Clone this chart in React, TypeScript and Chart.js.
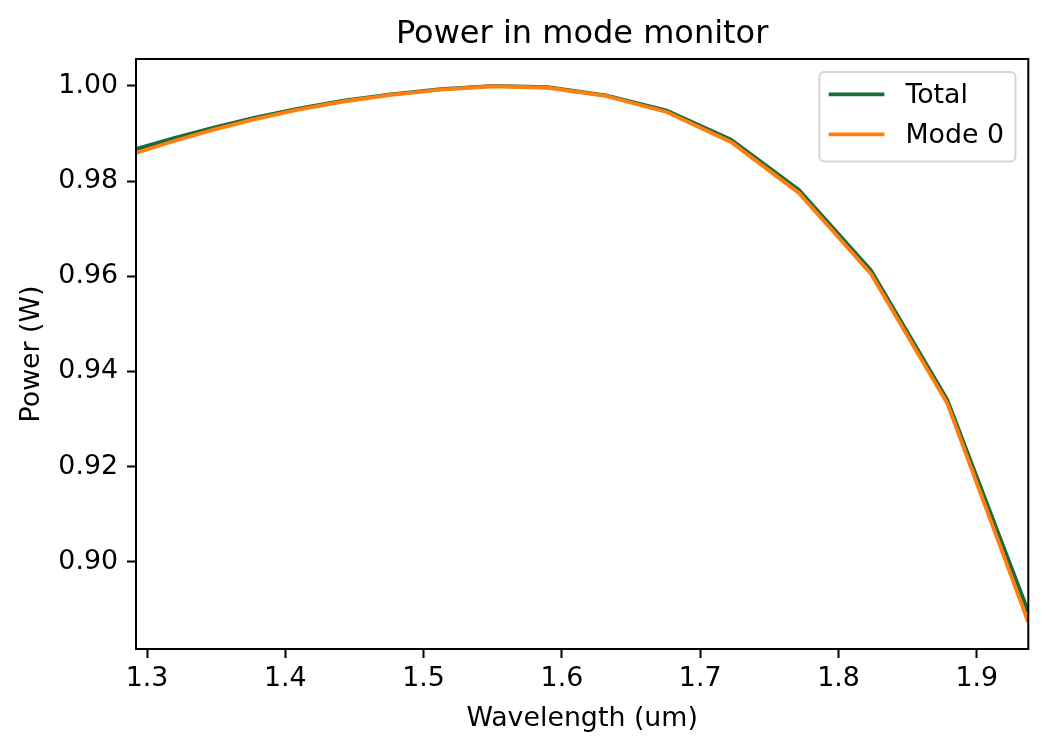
import React, { useEffect, useRef } from "react";
import { Chart, registerables } from "chart.js";

Chart.register(...registerables);

// wavelengths (um) of the monitor samples
const WAVELENGTHS = [
  1.292, 1.3195, 1.3482, 1.3781, 1.4094, 1.4421, 1.4764, 1.5124, 1.5502,
  1.5899, 1.6317, 1.6758, 1.7223, 1.7714, 1.8235, 1.8787, 1.9373,
];
const TOTAL = [
  0.9867, 0.989, 0.9912, 0.9933, 0.9952, 0.9969, 0.9982, 0.9993, 1.0,
  0.9997, 0.998, 0.9948, 0.9887, 0.9781, 0.9612, 0.934, 0.8895,
];
const MODE_0 = [
  0.9859, 0.9884, 0.9908, 0.993, 0.995, 0.9967, 0.9981, 0.9992, 0.9999,
  0.9996, 0.9979, 0.9945, 0.9882, 0.9775, 0.9605, 0.9333, 0.8873,
];
const SERIES_NAMES = ["Total", "Mode 0"];
const SERIES_COLORS = ["#1a6b3a", "#ff7f0e"];
const X_TICKS = [1.3, 1.4, 1.5, 1.6, 1.7, 1.8, 1.9];
const Y_TICKS = [0.9, 0.92, 0.94, 0.96, 0.98, 1.0];

const TITLE = "Power in mode monitor";
const X_LABEL = "Wavelength (um)";
const Y_LABEL = "Power (W)";

const FONT = "'DejaVu Sans', sans-serif";
const TEXT_PX = 26.8;
const TITLE_PX = 32;

// title and legend drawn like matplotlib, plus the full axes box
const mplPlugin = {
  id: "mplDecor",
  afterDatasetsDraw(chart: any) {
    const { ctx, chartArea: a } = chart;
    ctx.save();
    ctx.strokeStyle = "#000";
    ctx.lineWidth = 2;
    ctx.strokeRect(a.left, a.top, a.right - a.left, a.bottom - a.top);
    ctx.restore();
  },
  afterDraw(chart: any) {
    const { ctx, chartArea: a } = chart;
    ctx.save();
    // title
    ctx.fillStyle = "#000";
    ctx.font = `${TITLE_PX}px ${FONT}`;
    ctx.textAlign = "center";
    ctx.textBaseline = "alphabetic";
    ctx.fillText(TITLE, (a.left + a.right) / 2, a.top - 16.5);

    // legend box, upper right
    const w = 196;
    const h = 89.5;
    const bx = a.right - 12.9 - w;
    const by = a.top + 12.9;
    ctx.beginPath();
    ctx.roundRect(bx, by, w, h, 5);
    ctx.fillStyle = "rgba(255,255,255,0.8)";
    ctx.fill();
    ctx.strokeStyle = "#d6d6d6";
    ctx.lineWidth = 2;
    ctx.stroke();

    ctx.font = `${TEXT_PX}px ${FONT}`;
    ctx.textAlign = "left";
    ctx.textBaseline = "middle";
    chart.data.datasets.forEach((ds: any, i: number) => {
      const y = by + 22.5 + i * 40;
      ctx.strokeStyle = ds.borderColor;
      ctx.lineWidth = 3.85;
      ctx.beginPath();
      ctx.moveTo(bx + 9.3, y);
      ctx.lineTo(bx + 65, y);
      ctx.stroke();
      ctx.fillStyle = "#000";
      ctx.fillText(ds.label, bx + 86, y + 2);
    });
    ctx.restore();
  },
};

export default function App() {
  const canvasRef = useRef<HTMLCanvasElement | null>(null);
  const chartRef = useRef<Chart | null>(null);

  useEffect(() => {
    document.body.style.margin = "0";
    if (!canvasRef.current) return;
    const ctx = canvasRef.current.getContext("2d");
    if (!ctx) return;

    if (chartRef.current) chartRef.current.destroy();

    const allY = [...TOTAL, ...MODE_0];
    const yLo = Math.min(...allY);
    const yHi = Math.max(...allY);
    const yPad = (yHi - yLo) * 0.05;

    const tickFont = { family: FONT, size: TEXT_PX };

    chartRef.current = new Chart(ctx, {
      type: "line",
      data: {
        datasets: [
          {
            label: SERIES_NAMES[0],
            data: WAVELENGTHS.map((x, i) => ({ x, y: TOTAL[i] })),
            borderColor: SERIES_COLORS[0],
            borderWidth: 3.85,
            pointRadius: 0,
            tension: 0,
            order: 2,
          },
          {
            label: SERIES_NAMES[1],
            data: WAVELENGTHS.map((x, i) => ({ x, y: MODE_0[i] })),
            borderColor: SERIES_COLORS[1],
            borderWidth: 3.85,
            pointRadius: 0,
            tension: 0,
            order: 1,
          },
        ],
      },
      options: {
        animation: false,
        responsive: true,
        maintainAspectRatio: false,
        layout: { padding: { top: 59, right: 18.7, left: 0, bottom: 0 } },
        plugins: {
          legend: { display: false },
          tooltip: { enabled: false },
          title: { display: false },
        },
        scales: {
          x: {
            type: "linear",
            min: Math.min(...WAVELENGTHS),
            max: Math.max(...WAVELENGTHS),
            afterBuildTicks: (scale: any) => {
              scale.ticks = X_TICKS.map((value) => ({ value }));
            },
            afterFit: (scale: any) => {
              scale.height = 104;
            },
            ticks: {
              autoSkip: false,
              maxRotation: 0,
              color: "#000",
              font: tickFont,
              padding: 5,
              callback: (v: any) => Number(v).toFixed(1),
            },
            grid: {
              display: true,
              drawOnChartArea: false,
              drawTicks: true,
              tickLength: 9,
              tickWidth: 2,
              tickColor: "#000",
            },
            border: { display: false },
            title: {
              display: true,
              text: X_LABEL,
              color: "#000",
              font: tickFont,
              padding: { top: 0, bottom: 18 },
            },
          },
          y: {
            type: "linear",
            min: yLo - yPad,
            max: yHi + yPad,
            afterBuildTicks: (scale: any) => {
              scale.ticks = Y_TICKS.map((value) => ({ value }));
            },
            afterFit: (scale: any) => {
              scale.width = 136;
            },
            ticks: {
              autoSkip: false,
              color: "#000",
              font: tickFont,
              padding: 9,
              callback: (v: any) => Number(v).toFixed(2),
            },
            grid: {
              display: true,
              drawOnChartArea: false,
              drawTicks: true,
              tickLength: 9,
              tickWidth: 2,
              tickColor: "#000",
            },
            border: { display: false },
            title: {
              display: true,
              text: Y_LABEL,
              color: "#000",
              font: tickFont,
              padding: { top: 15.5, bottom: 0 },
            },
          },
        },
      },
      plugins: [mplPlugin],
    });

    return () => {
      if (chartRef.current) {
        chartRef.current.destroy();
        chartRef.current = null;
      }
    };
  }, []);

  return (
    <div style={{ position: "relative", width: 1047, height: 753, background: "#fff" }}>
      <canvas ref={canvasRef} />
    </div>
  );
}
